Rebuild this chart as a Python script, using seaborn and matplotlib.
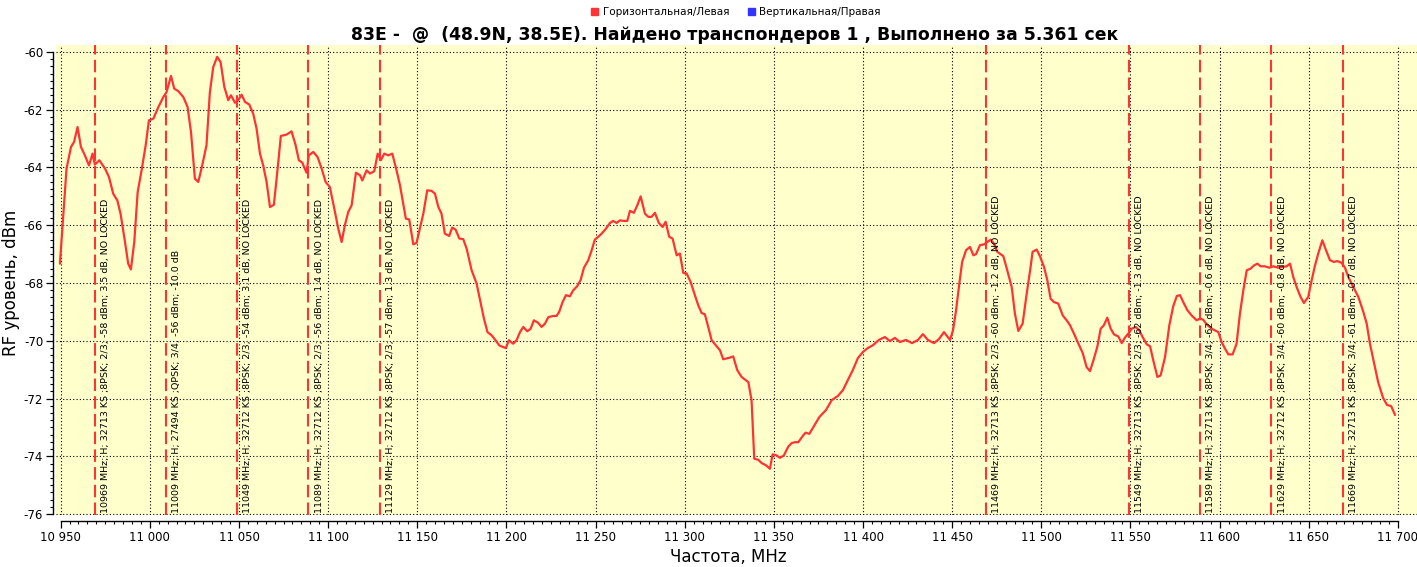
import numpy as np
import pandas as pd
import matplotlib
matplotlib.use("Agg")
import matplotlib.pyplot as plt
import seaborn as sns
from matplotlib.patches import Patch
from matplotlib.ticker import FixedLocator, FuncFormatter

# spectrum trace (MHz, dBm)
freq_mhz = [
    10949.6, 10953.3, 10955.8, 10957.5, 10959.5, 10961.4, 10963.6, 10965.9, 10967.9, 10969.2,
    10971.7, 10974.9, 10977.1, 10979.5, 10981.8, 10983.6, 10986.1, 10987.9, 10989.4, 10991.3,
    10993.2, 10995.4, 10997.7, 10999.5, 11002.0, 11004.8, 11007.6, 11009.4, 11011.9, 11013.7,
    11016.0, 11018.8, 11021.2, 11023.1, 11025.3, 11027.2, 11029.4, 11031.8, 11033.7, 11035.6,
    11037.8, 11039.7, 11041.8, 11044.0, 11045.5, 11047.8, 11049.6, 11051.5, 11053.4, 11055.8,
    11058.0, 11059.9, 11061.8, 11063.6, 11065.5, 11067.4, 11069.6, 11071.7, 11073.5, 11076.7,
    11079.5, 11081.8, 11083.6, 11085.5, 11087.9, 11089.2, 11091.7, 11094.1, 11096.4, 11098.6,
    11101.0, 11103.5, 11105.7, 11107.6, 11109.4, 11111.3, 11113.2, 11115.6, 11117.9, 11119.2,
    11121.6, 11123.5, 11125.9, 11127.8, 11129.6, 11131.5, 11133.8, 11136.0, 11138.4,
    11140.3, 11143.6, 11145.5, 11147.8, 11149.6, 11153.4, 11155.6, 11158.0, 11159.9, 11161.8,
    11163.6, 11165.5, 11167.9, 11169.6, 11171.5, 11173.6, 11175.8, 11177.7, 11180.5, 11183.3,
    11185.5, 11187.4, 11189.4, 11191.7, 11193.9, 11196.0, 11197.9, 11199.7, 11201.4, 11203.8,
    11205.7, 11207.6, 11209.5, 11211.7, 11213.6, 11215.4, 11217.9, 11219.7, 11221.6, 11223.5,
    11226.3, 11228.1, 11229.6, 11231.5, 11233.4, 11235.6, 11237.5, 11239.7, 11241.6, 11243.5,
    11245.9, 11247.8, 11249.6, 11251.5, 11253.4, 11255.8, 11258.1, 11259.9, 11261.8, 11263.7,
    11265.9, 11267.8, 11269.3, 11271.5, 11273.4, 11275.3, 11277.7, 11279.6, 11281.4, 11283.3,
    11285.5, 11287.6, 11289.3, 11291.3, 11293.2, 11295.5, 11297.3, 11299.2, 11301.1, 11303.3,
    11305.7, 11307.6, 11309.5, 11311.3, 11313.2, 11315.1, 11317.5, 11319.8, 11321.6, 11325.4,
    11327.2, 11329.5, 11331.9, 11335.7, 11337.5, 11339.0, 11341.3, 11343.1, 11345.6, 11347.8,
    11349.3, 11351.6, 11353.4, 11355.6, 11358.1, 11360.0, 11361.8, 11363.7, 11366.5, 11367.8,
    11369.9, 11372.1, 11375.5,
    11379.2, 11382.5, 11385.9, 11388.7, 11391.5, 11394.3, 11397.1, 11399.9, 11402.7, 11405.6,
    11408.9, 11412.3, 11415.1, 11417.9, 11420.7, 11424.1, 11427.5, 11430.8, 11433.6, 11436.4,
    11439.8, 11442.6, 11445.4, 11448.8, 11450.5, 11452.2, 11453.9, 11455.6, 11457.8,
    11460.0, 11461.9, 11463.4, 11465.6, 11467.9, 11469.7, 11471.6, 11473.5, 11475.3, 11478.7,
    11480.9, 11483.4, 11485.2, 11487.1, 11489.5, 11491.8, 11494.0, 11495.1, 11497.4, 11499.2,
    11501.5, 11503.4, 11505.2, 11507.1, 11509.5, 11512.0, 11514.2, 11516.1, 11518.3, 11520.8,
    11523.2, 11525.4, 11527.3, 11529.2, 11531.4, 11533.3, 11535.1, 11537.0, 11538.9, 11540.8,
    11543.2, 11545.1, 11546.9, 11548.8, 11550.7, 11552.9, 11555.0, 11556.8, 11559.1, 11561.0,
    11562.8, 11565.1, 11566.9, 11569.4, 11571.8, 11574.0, 11576.0,
    11577.8, 11579.6, 11581.9, 11584.3, 11587.1, 11589.0, 11590.8, 11592.7, 11595.5, 11599.3,
    11601.1, 11603.0, 11604.9, 11607.3, 11609.5, 11611.4, 11613.3, 11615.2, 11617.4, 11619.3,
    11621.1, 11623.0, 11625.4, 11627.9, 11630.1, 11632.9, 11635.7, 11637.6, 11639.5, 11641.3,
    11643.2, 11645.4, 11647.3, 11649.7, 11651.6, 11653.5, 11655.3, 11657.6, 11659.7, 11661.9,
    11664.1, 11666.0, 11668.4, 11670.3, 11672.2, 11675.0, 11677.8, 11680.6, 11682.5, 11684.3,
    11688.9, 11691.7, 11693.9, 11696.2, 11698.4,
]
level_dbm = [
    -67.33, -64.04, -63.29, -63.12, -62.60, -63.29, -63.58, -63.93, -63.52, -63.90,
    -63.75, -64.04, -64.33, -64.91, -65.14, -65.60, -66.58, -67.33, -67.53, -66.58,
    -64.85, -64.10, -63.23, -62.37, -62.31, -61.91, -61.56, -61.39, -60.83, -61.27,
    -61.36, -61.56, -61.91, -62.77, -64.39, -64.50, -63.93, -63.23, -61.39, -60.52,
    -60.17, -60.35, -61.21, -61.67, -61.50, -61.76, -61.67, -61.48, -61.73, -61.82,
    -62.14, -62.66, -63.52, -63.93, -64.50, -65.37, -65.29, -64.04, -62.91, -62.86,
    -62.75, -63.23, -63.75, -63.83, -64.18, -63.58, -63.46, -63.64, -64.04, -64.50,
    -64.68, -65.43, -66.12, -66.58, -66.00, -65.54, -65.31, -64.18, -64.27, -64.45,
    -64.10, -64.21, -64.13, -63.52, -63.75, -63.52, -63.58, -63.52, -64.10,
    -64.61, -65.77, -65.80, -66.66, -66.61, -65.60, -64.79, -64.81, -64.90, -65.36,
    -65.60, -66.29, -66.37, -66.08, -66.15, -66.46, -66.48, -66.81, -67.56, -68.02,
    -68.66, -69.23, -69.70, -69.81, -69.98, -70.16, -70.21, -70.25, -69.98, -70.10,
    -69.98, -69.70, -69.52, -69.67, -69.58, -69.29, -69.38, -69.52, -69.41, -69.18,
    -69.14, -69.14, -69.00, -68.66, -68.42, -68.46, -68.25, -68.11, -67.90, -67.47,
    -67.21, -66.87, -66.50, -66.40, -66.29, -66.12, -65.92, -65.85, -65.92, -65.83,
    -65.85, -65.85, -65.50, -65.57, -65.31, -65.00, -65.60, -65.71, -65.71, -65.57,
    -65.92, -66.06, -65.88, -66.40, -66.46, -67.04, -66.98, -67.65, -67.67, -67.96,
    -68.42, -68.77, -69.04, -69.08, -69.52, -69.98, -70.16, -70.33, -70.64, -70.58,
    -70.54, -71.02, -71.25, -71.43, -72.06, -74.08, -74.12, -74.23, -74.31, -74.43,
    -73.93, -73.97, -74.05, -73.97, -73.66, -73.54, -73.51, -73.51, -73.27, -73.18,
    -73.22, -72.99, -72.64,
    -72.40, -72.05, -71.91, -71.71, -71.36, -71.01, -70.60, -70.39, -70.25, -70.15,
    -69.97, -69.87, -70.01, -69.90, -70.04, -69.97, -70.08, -69.97, -69.77, -69.97,
    -70.08, -69.94, -69.70, -69.97, -69.63, -68.94, -68.07, -67.27, -66.86,
    -66.75, -67.04, -67.00, -66.69, -66.66, -66.58, -66.50, -66.64, -66.92, -67.07,
    -67.56, -68.14, -69.06, -69.66, -69.41, -68.37, -67.44, -66.92, -66.84, -67.07,
    -67.44, -67.91, -68.54, -68.66, -68.71, -69.12, -69.29, -69.46, -69.75, -70.10,
    -70.42, -70.91, -71.05, -70.68, -70.21, -69.58, -69.46, -69.20, -69.58, -69.78,
    -69.85, -70.08, -69.89, -69.75, -69.58, -69.52, -69.64, -69.87, -70.12, -70.19,
    -70.68, -71.25, -71.20, -70.56, -69.46, -68.80, -68.45,
    -68.42, -68.66, -68.94, -69.12, -69.29, -69.23, -69.27, -69.43, -69.58, -69.70,
    -70.04, -70.27, -70.47, -70.47, -70.10, -69.06, -68.25, -67.56, -67.50, -67.39,
    -67.33, -67.42, -67.42, -67.47, -67.42, -67.47, -67.44, -67.42, -67.33, -67.79,
    -68.14, -68.48, -68.69, -68.48, -67.91, -67.39, -66.98, -66.52, -66.87, -67.21,
    -67.27, -67.24, -67.30, -67.47, -67.79, -68.14, -68.48, -69.00, -69.41, -70.10,
    -71.43, -71.98, -72.22, -72.26, -72.57,
]

# transponders found in the scan
tp_freq = [10969, 11009, 11049, 11089, 11129, 11469, 11549, 11589, 11629, 11669]
tp_labels = [
    "10969 MHz; H; 32713 KS ;8PSK; 2/3; -58 dBm; 3.5 dB, NO LOCKED",
    "11009 MHz; H; 27494 KS ;QPSK; 3/4; -56 dBm; -10.0 dB",
    "11049 MHz; H; 32712 KS ;8PSK; 2/3; -54 dBm; 3.1 dB, NO LOCKED",
    "11089 MHz; H; 32712 KS ;8PSK; 2/3; -56 dBm; 1.4 dB, NO LOCKED",
    "11129 MHz; H; 32712 KS ;8PSK; 2/3; -57 dBm; 1.3 dB, NO LOCKED",
    "11469 MHz; H; 32713 KS ;8PSK; 2/3; -60 dBm; -1.2 dB, NO LOCKED",
    "11549 MHz; H; 32713 KS ;8PSK; 2/3; -62 dBm; -1.3 dB, NO LOCKED",
    "11589 MHz; H; 32713 KS ;8PSK; 3/4; -62 dBm; -0.6 dB, NO LOCKED",
    "11629 MHz; H; 32712 KS ;8PSK; 3/4; -60 dBm; -0.8 dB, NO LOCKED",
    "11669 MHz; H; 32713 KS ;8PSK; 3/4; -61 dBm; -0.7 dB, NO LOCKED",
]

title = "83E -  @  (48.9N, 38.5E). Найдено транспондеров 1 , Выполнено за 5.361 сек"
legend_names = ["Горизонтальная/Левая", "Вертикальная/Правая"]
legend_colors = ["#ff3333", "#3333ff"]

sns.set_theme(style="ticks")
plt.rcParams["font.family"] = ["DejaVu Sans"]
plt.rcParams["axes.edgecolor"] = "black"
plt.rcParams["xtick.color"] = "black"
plt.rcParams["ytick.color"] = "black"
plt.rcParams["text.color"] = "black"
plt.rcParams["axes.labelcolor"] = "black"

df = pd.DataFrame({"freq": freq_mhz, "level": level_dbm})

fig = plt.figure(figsize=(14.17, 5.67), dpi=100)
W, H = 1417, 567
ax = fig.add_axes([56 / W, (H - 515) / H, (W - 56) / W, (515 - 45) / H])
ax.set_facecolor("#ffffcc")

sns.lineplot(data=df, x="freq", y="level", color="#ff3333", lw=1.6, ax=ax, zorder=4)

for f, lab in zip(tp_freq, tp_labels):
    ax.axvline(f, color="#ff3333", lw=1.5, dashes=(6, 2.5), zorder=3)
    ax.annotate(lab, (f, -75.95), xytext=(4.5, 0), textcoords="offset points",
                rotation=90, ha="left", va="bottom", fontsize=6.8, zorder=5)

ax.set_xlim(10947.4, 11710.7)
ax.set_ylim(-76.03, -59.76)
ax.xaxis.set_major_locator(FixedLocator(np.arange(10950, 11701, 50)))
ax.xaxis.set_minor_locator(FixedLocator(np.arange(10950, 11701, 5)))
ax.yaxis.set_major_locator(FixedLocator(np.arange(-76, -59, 2)))
ax.yaxis.set_minor_locator(FixedLocator(np.arange(-76, -59.9, 0.25)))
ax.xaxis.set_major_formatter(FuncFormatter(lambda x, _: f"{x:,.0f}".replace(",", " ")))
ax.yaxis.set_major_formatter(FuncFormatter(lambda y, _: f"{y:.0f}"))

ax.grid(which="major", color="black", ls=(0, (1, 2)), lw=0.8, zorder=1)
ax.set_axisbelow(True)

for s in ["top", "right"]:
    ax.spines[s].set_visible(False)
ax.spines["left"].set_position(("outward", 2.2))
ax.spines["bottom"].set_position(("outward", 4.3))
ax.spines["left"].set_bounds(-76, -60)
ax.spines["bottom"].set_bounds(10950, 11700)
ax.spines["left"].set_linewidth(1.0)
ax.spines["bottom"].set_linewidth(1.0)

ax.tick_params(which="major", direction="out", length=5, width=0.9, labelsize=8.5, pad=2)
ax.tick_params(which="minor", direction="out", length=2.5, width=0.8)

ax.set_xlabel("Частота, MHz", fontsize=12)
ax.set_ylabel("RF уровень, dBm", fontsize=12)
ax.xaxis.set_label_coords(0.5 - 8 / 1361, -42 / 470)
ax.xaxis.label.set_va("center")
ax.yaxis.set_label_coords(-45 / 1361, 0.5 - 3 / 470)
ax.yaxis.label.set_va("center")

fig.text(735 / W, 1 - 35 / H, title, ha="center", va="center", fontsize=12.4, fontweight="bold")

handles = [Patch(facecolor=c, edgecolor=c) for c in legend_colors]
fig.legend(handles, legend_names, loc="center", bbox_to_anchor=(736 / W, 1 - 12 / H),
           ncol=2, frameon=False, fontsize=7.5, handlelength=0.7, handleheight=0.7,
           handletextpad=0.4, columnspacing=1.8, borderaxespad=0)

fig.savefig("out.png", dpi=100)
